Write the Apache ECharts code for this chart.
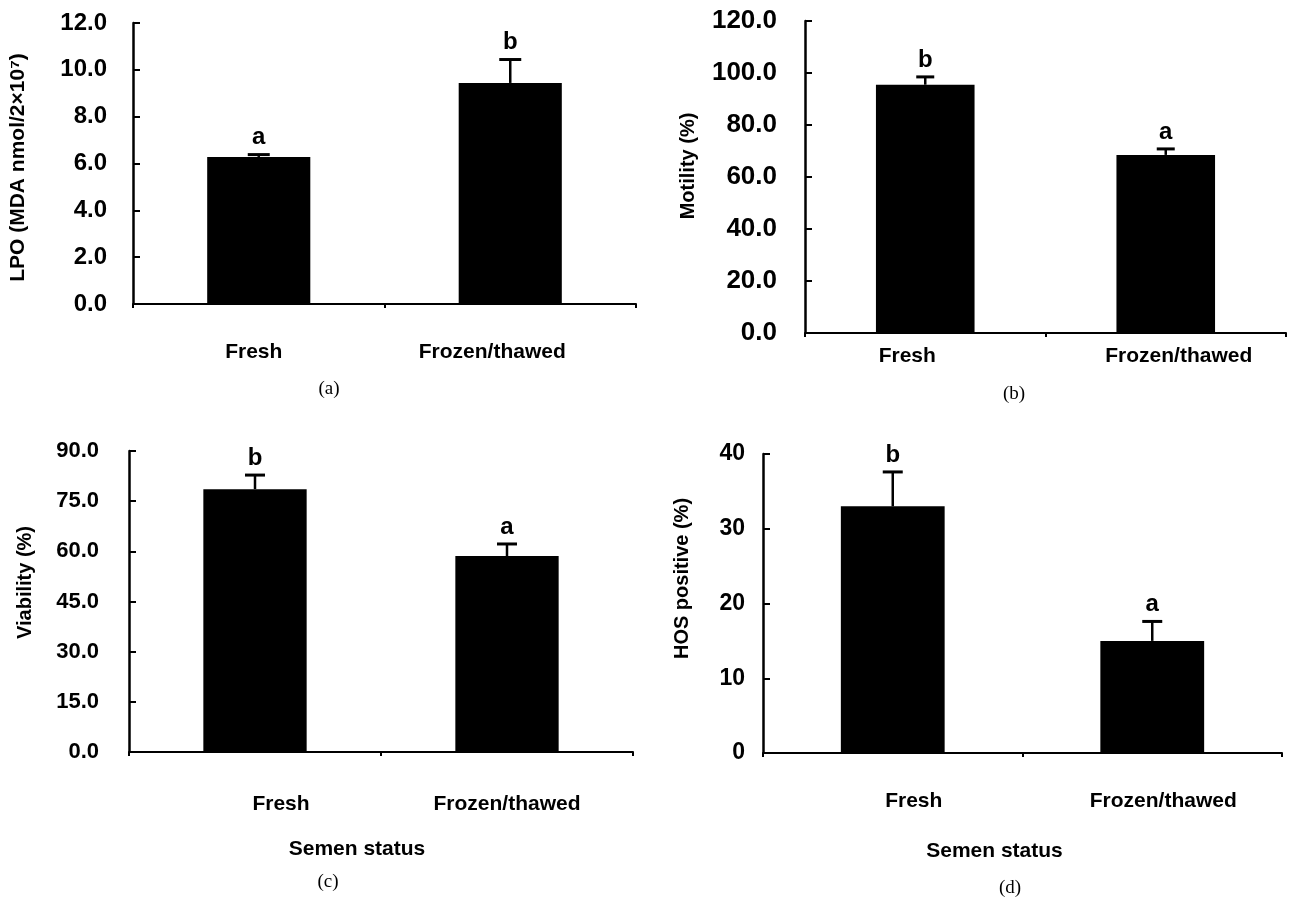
<!DOCTYPE html>
<html><head><meta charset="utf-8">
<script src="https://cdn.jsdelivr.net/npm/echarts@6/dist/echarts.min.js"></script>
<style>html,body{margin:0;padding:0;background:#fff}#c{width:1290px;height:905px}</style>
</head><body><div id="c"></div>
<script>
// ---- data ----
const categories = ['Fresh', 'Frozen/thawed'];

const lpoMean = [6.28, 9.44];
const lpoErr = [0.1, 1.0];
const lpoSig = ['a', 'b'];
const lpoTicks = [0, 12, 2];

const motMean = [95.5, 68.5];
const motErr = [3.0, 2.3];
const motSig = ['b', 'a'];
const motTicks = [0, 120, 20];

const viaMean = [78.6, 58.6];
const viaErr = [4.2, 3.6];
const viaSig = ['b', 'a'];
const viaTicks = [0, 90, 15];

const hosMean = [33.0, 15.0];
const hosErr = [4.6, 2.6];
const hosSig = ['b', 'a'];
const hosTicks = [0, 40, 10];

const yNames = ['LPO (MDA nmol/2×10⁷)', 'Motility (%)', 'Viability (%)', 'HOS positive (%)'];
const xNames = ['', '', 'Semen status', 'Semen status'];
const panelTags = ['(a)', '(b)', '(c)', '(d)'];

// ---- layout / style ----
const SANS = "'Liberation Sans', Arial, sans-serif";
const SERIF = "'Liberation Serif', 'Times New Roman', serif";

const panels = [
  {mean: lpoMean, err: lpoErr, sig: lpoSig, ticks: lpoTicks, dec: 1,
   grid: {left: 133, right: 654, top: 23, bottom: 601},
   tickSize: 24, tickMargin: 26, nameGap: 104, nameShift: 4, nameSize: 21,
   labelMargin: 38, labelShift: [-5, -18], xNameGap: 0, xNameShift: 0,
   barW: '41%', capW: 22, tag: [329, 389]},
  {mean: motMean, err: motErr, sig: motSig, ticks: motTicks, dec: 1,
   grid: {left: 805, right: 4, top: 21, bottom: 572},
   tickSize: 26, tickMargin: 28, nameGap: 107, nameShift: -11, nameSize: 20,
   labelMargin: 13, labelShift: [-18, 13], xNameGap: 0, xNameShift: 0,
   barW: '41%', capW: 18, tag: [1014, 394]},
  {mean: viaMean, err: viaErr, sig: viaSig, ticks: viaTicks, dec: 1,
   grid: {left: 129, right: 657, top: 451, bottom: 153},
   tickSize: 22, tickMargin: 30, nameGap: 94, nameShift: -19, nameSize: 20,
   labelMargin: 42, labelShift: [26, 0], xNameGap: 87, xNameShift: -24,
   barW: '41%', capW: 20, tag: [328, 882]},
  {mean: hosMean, err: hosErr, sig: hosSig, ticks: hosTicks, dec: 0,
   grid: {left: 763, right: 8, top: 454, bottom: 152},
   tickSize: 23, tickMargin: 18, nameGap: 71, nameShift: -25, nameSize: 20,
   labelMargin: 38, labelShift: [21, 11], xNameGap: 88, xNameShift: -28,
   barW: '40%', capW: 20, tag: [1010, 888]}
];

function shiftPad(s) { // horizontal shift of centered text by s px
  return s >= 0 ? [0, 0, 0, 2 * s] : [0, -2 * s, 0, 0];
}

const grids = [], xAxes = [], yAxes = [], series = [], graphics = [];

panels.forEach((p, k) => {
  grids.push(Object.assign({containLabel: false}, p.grid));
  const rich = {};
  categories.forEach((c, i) => {
    rich['s' + i] = {padding: shiftPad(p.labelShift[i]), fontSize: 21, fontWeight: 'bold', fontFamily: SANS, color: '#000'};
  });
  xAxes.push({
    type: 'category', gridIndex: k, data: categories,
    axisLine: {lineStyle: {color: '#000', width: 2}},
    axisTick: {show: true, length: 4, lineStyle: {color: '#000', width: 2}},
    axisLabel: {margin: p.labelMargin, interval: 0,
      formatter: (v, i) => '{s' + i + '|' + v + '}', rich: rich},
    name: xNames[k], nameLocation: 'middle', nameGap: p.xNameGap,
    nameTextStyle: {fontSize: 21, fontWeight: 'bold', fontFamily: SANS, color: '#000',
      padding: shiftPad(p.xNameShift)}
  });
  // rotated name: local +x = screen up; shift up by s => left padding 2s
  const ns = p.nameShift; // negative = up
  yAxes.push({
    type: 'value', gridIndex: k, min: p.ticks[0], max: p.ticks[1], interval: p.ticks[2],
    axisLine: {show: true, lineStyle: {color: '#000', width: 2.5}},
    axisTick: {show: true, inside: true, length: 7, lineStyle: {color: '#000', width: 2}},
    splitLine: {show: false},
    axisLabel: {formatter: v => v.toFixed(p.dec), fontSize: p.tickSize, fontWeight: 'bold',
      fontFamily: SANS, color: '#000', margin: p.tickMargin},
    name: yNames[k], nameLocation: 'middle', nameGap: p.nameGap,
    nameTextStyle: {fontSize: p.nameSize, fontWeight: 'bold', fontFamily: SANS, color: '#000',
      padding: ns < 0 ? [0, 0, 0, -2 * ns] : [0, 2 * ns, 0, 0]}
  });
  series.push({
    type: 'bar', xAxisIndex: k, yAxisIndex: k, data: p.mean,
    barWidth: p.barW, itemStyle: {color: '#000'}, silent: true
  });
  series.push({
    type: 'custom', xAxisIndex: k, yAxisIndex: k, z: 5, silent: true,
    data: p.mean.map((m, i) => [i, m, p.err[i]]),
    renderItem: function (params, api) {
      const i = api.value(0), m = api.value(1), e = api.value(2);
      const b = api.coord([i, m]);
      const t = api.coord([i, m + e]);
      const cw = p.capW / 2;
      return {type: 'group', children: [
        {type: 'line', shape: {x1: b[0], y1: b[1], x2: t[0], y2: t[1]}, style: {stroke: '#000', lineWidth: 2.5}},
        {type: 'line', shape: {x1: t[0] - cw, y1: t[1], x2: t[0] + cw, y2: t[1]}, style: {stroke: '#000', lineWidth: 3}},
        {type: 'text', x: t[0], y: t[1] - 5, style: {text: p.sig[params.dataIndex], align: 'center', verticalAlign: 'bottom',
          font: 'bold 24px ' + SANS, fill: '#000'}}
      ]};
    }
  });
  graphics.push({type: 'text', x: p.tag[0], y: p.tag[1],
    style: {text: panelTags[k], align: 'center', verticalAlign: 'middle', font: '19px ' + SERIF, fill: '#000'}});
});

const chart = echarts.init(document.getElementById('c'), null, {renderer: 'canvas'});
chart.setOption({
  animation: false,
  backgroundColor: '#fff',
  grid: grids, xAxis: xAxes, yAxis: yAxes, series: series, graphic: graphics
});
</script></body></html>
